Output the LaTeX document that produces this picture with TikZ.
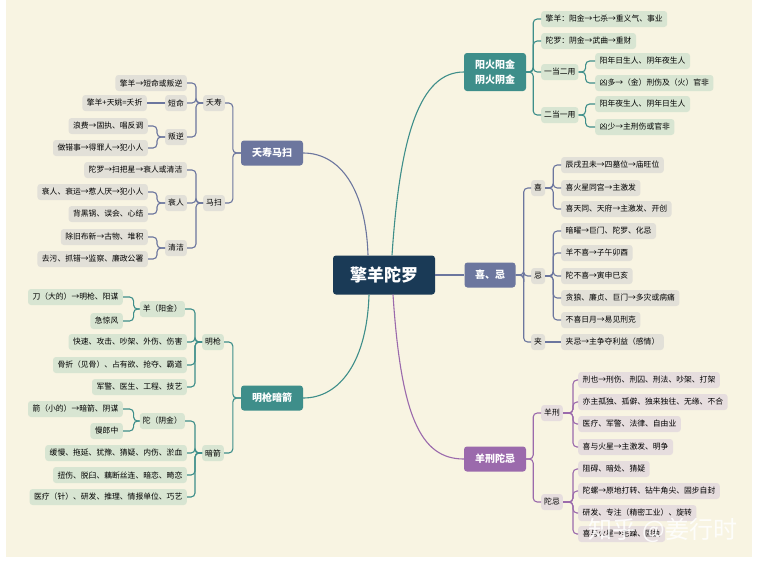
\documentclass[tikz,border=0pt]{standalone}
\usepackage{fontspec}
\setmainfont{Noto Sans CJK SC}
\usepackage{xcolor}
\usepackage{tikz}

\definecolor{paper}{RGB}{248,244,226}
\definecolor{navy}{RGB}{26,58,86}
\definecolor{tealc}{RGB}{62,142,138}
\definecolor{slatec}{RGB}{108,118,158}
\definecolor{purplec}{RGB}{155,106,172}
\definecolor{greenleaf}{RGB}{216,229,210}
\definecolor{grayleaf}{RGB}{226,224,216}
\definecolor{pinkleaf}{RGB}{230,221,222}

\begin{document}
\begin{tikzpicture}[x=1pt,y=-1pt,
  rootbox/.style={fill=navy,text=white,rounded corners=3pt,minimum width=102pt,
    minimum height=39pt,font=\fontsize{17}{20}\selectfont\bfseries},
  topicbox/.style={fill=#1,text=white,rounded corners=3pt,minimum width=62pt,
    minimum height=25pt,inner sep=2pt,font=\fontsize{10}{15}\selectfont\bfseries},
  leafbox/.style={fill=#1,rounded corners=3pt,minimum height=16pt,inner xsep=4.5pt,
    inner ysep=1pt,font=\fontsize{7.8}{9}\selectfont},
  tagbox/.style={leafbox=#1,inner xsep=3pt},
  linkto/.style={draw=#1,line width=1.1pt,rounded corners=4pt}]

% paper
\fill[white] (0,0) rectangle (759,566);
\fill[paper] (6,0) rectangle (752,557);
\useasboundingbox (0,0) rectangle (759,566);

% Root
\node[rootbox] (root) at (384,275) {擎羊陀罗};

% Topics
\node[topicbox=tealc,align=center,minimum height=38pt] (yang) at (495,72) {阳火阳金\\阴火阴金};
\node[topicbox=slatec,minimum width=51pt] (xiji) at (490,275) {喜、忌};
\node[topicbox=purplec] (ywxj) at (495,459) {羊刑陀忌};
\node[topicbox=slatec] (tsmj) at (272,153) {夭寿马扫};
\node[topicbox=tealc] (mqaj) at (272,398) {明枪暗箭};

\draw[linkto=tealc] ([xshift=8]root.north) .. controls +(8,-120) and +(-44,0) .. (yang.west);
\draw[linkto=slatec] (root.east) -- (xiji.west);
\draw[linkto=purplec] ([xshift=9]root.south) .. controls +(8,120) and +(-44,0) .. (ywxj.west);
\draw[linkto=slatec] ([xshift=-16]root.north) .. controls +(-2,-66) and +(37,0) .. (tsmj.east);
\draw[linkto=tealc] ([xshift=-15]root.south) .. controls +(-2,66) and +(37,0) .. (mqaj.east);

% 阳火阳金
\node[leafbox=greenleaf,anchor=west] (yangA) at (541,19) {擎羊：阳金→七杀→重义气、事业};
\node[leafbox=greenleaf,anchor=west] (yangB) at (541,41) {陀罗：阴金→武曲→重财};
\node[tagbox=greenleaf,anchor=west] (yiyong) at (541,72) {一当二用};
\node[tagbox=greenleaf,anchor=west] (eryong) at (541,115) {二当一用};
\node[leafbox=greenleaf,anchor=west] (yiyongA) at (595,61) {阳年日生人、阴年夜生人};
\node[leafbox=greenleaf,anchor=west] (yiyongB) at (595,83) {凶多→（金）刑伤及（火）官非};
\node[leafbox=greenleaf,anchor=west] (eryongA) at (595,104) {阳年夜生人、阴年日生人};
\node[leafbox=greenleaf,anchor=west] (eryongB) at (595,127) {凶少→主刑伤或官非};
\foreach \n in {yangA,yangB,yiyong,eryong}
  \draw[linkto=tealc] (yang.east) -- ++(7,0) |- (\n.west);
\foreach \n in {yiyongA,yiyongB}
  \draw[linkto=tealc] (yiyong.east) -- ++(7,0) |- (\n.west);
\foreach \n in {eryongA,eryongB}
  \draw[linkto=tealc] (eryong.east) -- ++(7,0) |- (\n.west);

% 喜、忌
\node[tagbox=grayleaf,anchor=west] (xi) at (531,188) {喜};
\node[tagbox=grayleaf,anchor=west] (ji) at (531,276) {忌};
\node[tagbox=grayleaf,anchor=west] (jia) at (531,342) {夹};
\node[leafbox=grayleaf,anchor=west] (xiA) at (561,165) {辰戌丑未→四墓位→庙旺位};
\node[leafbox=grayleaf,anchor=west] (xiB) at (561,188) {喜火星同宫→主激发};
\node[leafbox=grayleaf,anchor=west] (xiC) at (561,209) {喜天同、天府→主激发、开创};
\node[leafbox=grayleaf,anchor=west] (jiA) at (561,231) {暗曜→巨门、陀罗、化忌};
\node[leafbox=grayleaf,anchor=west] (jiB) at (561,253) {羊不喜→子午卯酉};
\node[leafbox=grayleaf,anchor=west] (jiC) at (561,276) {陀不喜→寅申巳亥};
\node[leafbox=grayleaf,anchor=west] (jiD) at (561,298) {贪狼、廉贞、巨门→多灾或病痛};
\node[leafbox=grayleaf,anchor=west] (jiE) at (561,320) {不喜日月→易见刑克};
\node[leafbox=grayleaf,anchor=west] (jiaA) at (561,342) {夹忌→主争夺利益（感情）};
\foreach \n in {xi,ji,jia}
  \draw[linkto=slatec] (xiji.east) -- ++(8,0) |- (\n.west);
\foreach \n in {xiA,xiB,xiC}
  \draw[linkto=slatec] (xi.east) -- ++(8,0) |- (\n.west);
\foreach \n in {jiA,jiB,jiC,jiD,jiE}
  \draw[linkto=slatec] (ji.east) -- ++(8,0) |- (\n.west);
\draw[linkto=slatec] (jia.east) -- (jiaA.west);

% 羊刑陀忌
\node[tagbox=pinkleaf,anchor=west] (yangxing) at (541,413) {羊刑};
\node[tagbox=pinkleaf,anchor=west] (tuoji) at (541,502) {陀忌};
\node[leafbox=pinkleaf,anchor=west] (yxA) at (578,380) {刑也→刑伤、刑囚、刑法、吵架、打架};
\node[leafbox=pinkleaf,anchor=west] (yxB) at (578,402) {亦主孤独、孤僻、独来独往、无缘、不合};
\node[leafbox=pinkleaf,anchor=west] (yxC) at (578,424) {医疗、军警、法律、自由业};
\node[leafbox=pinkleaf,anchor=west] (yxD) at (578,447) {喜与火星→主激发、明争};
\node[leafbox=pinkleaf,anchor=west] (tjiA) at (578,469) {阻碍、暗处、猜疑};
\node[leafbox=pinkleaf,anchor=west] (tjiB) at (578,491) {陀螺→原地打转、钻牛角尖、固步自封};
\node[leafbox=pinkleaf,anchor=west] (tjiC) at (578,513) {研发、专注（精密工业）、旋转};
\node[leafbox=pinkleaf,anchor=west] (tjiD) at (578,534) {喜与火星→毛躁、固执};
\foreach \n in {yangxing,tuoji}
  \draw[linkto=purplec] (ywxj.east) -- ++(7,0) |- (\n.west);
\foreach \n in {yxA,yxB,yxC,yxD}
  \draw[linkto=purplec] (yangxing.east) -- ++(10,0) |- (\n.west);
\foreach \n in {tjiA,tjiB,tjiC,tjiD}
  \draw[linkto=purplec] (tuoji.east) -- ++(10,0) |- (\n.west);

% 夭寿马扫
\node[tagbox=grayleaf,anchor=east] (yaoshou) at (225,103) {夭寿};
\node[tagbox=grayleaf,anchor=east] (masao) at (225,203) {马扫};
\node[leafbox=grayleaf,anchor=east] (ysA) at (187,83) {擎羊→短命或叛逆};
\node[tagbox=grayleaf,anchor=east] (duanming) at (187,103) {短命};
\node[tagbox=grayleaf,anchor=east] (panni) at (187,137) {叛逆};
\node[leafbox=grayleaf,anchor=east] (yaozhe) at (147,103) {擎羊+天姚=夭折};
\node[leafbox=grayleaf,anchor=east] (panniA) at (148,126) {浪费→固执、唱反调};
\node[leafbox=grayleaf,anchor=east] (panniB) at (148,148) {做错事→得罪人→犯小人};
\node[leafbox=grayleaf,anchor=east] (msA) at (187,170) {陀罗→扫把星→衰人或清洁};
\node[tagbox=grayleaf,anchor=east] (shuairen) at (187,203) {衰人};
\node[tagbox=grayleaf,anchor=east] (qingjie) at (187,248) {清洁};
\node[leafbox=grayleaf,anchor=east] (srA) at (148,192) {衰人、衰运→惹人厌→犯小人};
\node[leafbox=grayleaf,anchor=east] (srB) at (148,214) {背黑锅、误会、心结};
\node[leafbox=grayleaf,anchor=east] (qjA) at (148,237) {除旧布新→古物、堆积};
\node[leafbox=grayleaf,anchor=east] (qjB) at (148,259) {去污、抓错→监察、廉政公署};
\foreach \n in {yaoshou,masao}
  \draw[linkto=slatec] (tsmj.west) -- ++(-8,0) |- (\n.east);
\foreach \n in {ysA,duanming,panni}
  \draw[linkto=slatec] (yaoshou.west) -- ++(-7,0) |- (\n.east);
\draw[linkto=slatec] (duanming.west) -- (yaozhe.east);
\foreach \n in {panniA,panniB}
  \draw[linkto=slatec] (panni.west) -- ++(-8,0) |- (\n.east);
\foreach \n in {msA,shuairen,qingjie}
  \draw[linkto=slatec] (masao.west) -- ++(-7,0) |- (\n.east);
\foreach \n in {srA,srB}
  \draw[linkto=slatec] (shuairen.west) -- ++(-8,0) |- (\n.east);
\foreach \n in {qjA,qjB}
  \draw[linkto=slatec] (qingjie.west) -- ++(-8,0) |- (\n.east);

% 明枪暗箭
\node[tagbox=greenleaf,anchor=east] (mingqiang) at (224,342) {明枪};
\node[tagbox=greenleaf,anchor=east] (anjian) at (224,453) {暗箭};
\node[tagbox=greenleaf,anchor=east] (yangjin) at (185,309) {羊（阳金）};
\node[leafbox=greenleaf,anchor=east] (yjA) at (123,297) {刀（大的）→明枪、阳谋};
\node[leafbox=greenleaf,anchor=east] (yjB) at (123,321) {急惊风};
\node[leafbox=greenleaf,anchor=east] (mqA) at (187,342) {快速、攻击、吵架、外伤、伤害};
\node[leafbox=greenleaf,anchor=east] (mqB) at (187,365) {骨折（见骨）、占有欲、抢夺、霸道};
\node[leafbox=greenleaf,anchor=east] (mqC) at (187,387) {军警、医生、工程、技艺};
\node[tagbox=greenleaf,anchor=east] (tuojin) at (185,421) {陀（阴金）};
\node[leafbox=greenleaf,anchor=east] (tjA) at (123,409) {箭（小的）→暗箭、阴谋};
\node[leafbox=greenleaf,anchor=east] (tjB) at (123,431) {慢郎中};
\node[leafbox=greenleaf,anchor=east] (ajA) at (187,453) {缓慢、拖延、犹豫、猜疑、内伤、淤血};
\node[leafbox=greenleaf,anchor=east] (ajB) at (187,475) {扭伤、脱臼、藕断丝连、暗恋、畸恋};
\node[leafbox=greenleaf,anchor=east] (ajC) at (187,497) {医疗（针）、研发、推理、情报单位、巧艺};
\foreach \n in {mingqiang,anjian}
  \draw[linkto=tealc] (mqaj.west) -- ++(-8,0) |- (\n.east);
\foreach \n in {yangjin,mqA,mqB,mqC}
  \draw[linkto=tealc] (mingqiang.west) -- ++(-7,0) |- (\n.east);
\foreach \n in {yjA,yjB}
  \draw[linkto=tealc] (yangjin.west) -- ++(-6,0) |- (\n.east);
\foreach \n in {tuojin,ajA,ajB,ajC}
  \draw[linkto=tealc] (anjian.west) -- ++(-7,0) |- (\n.east);
\foreach \n in {tjA,tjB}
  \draw[linkto=tealc] (tuojin.west) -- ++(-6,0) |- (\n.east);

% watermark
\node[text=white,opacity=0.85,font=\fontsize{24}{24}\selectfont] (mark) at (663,530) {知乎 @姜行时};

\end{tikzpicture}
\end{document}
